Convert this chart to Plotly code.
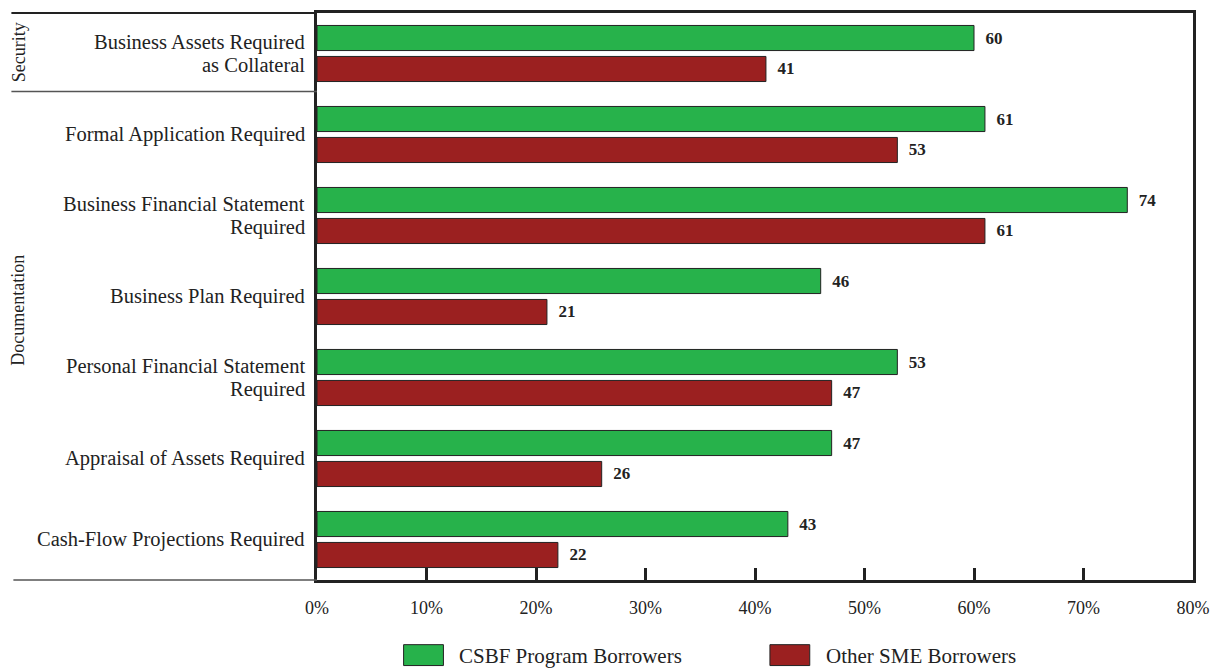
import plotly.graph_objects as go

categories = [
    "Business Assets Required<br>as Collateral",
    "Formal Application Required",
    "Business Financial Statement<br>Required",
    "Business Plan Required",
    "Personal Financial Statement<br>Required",
    "Appraisal of Assets Required",
    "Cash-Flow Projections Required",
]
csbf = [60, 61, 74, 46, 53, 47, 43]
other = [41, 53, 61, 21, 47, 26, 22]
tick_vals = [0, 10, 20, 30, 40, 50, 60, 70, 80]
tick_text = ["0%", "10%", "20%", "30%", "40%", "50%", "60%", "70%", "80%"]
series_names = ["CSBF Program Borrowers", "Other SME Borrowers"]
colors = ["#27B24B", "#9B2020"]

FONT = "Liberation Serif"
INK = "#222222"
NBSP = "\u00a0"

fig = go.Figure()
for name, vals, col in zip(series_names, [csbf, other], colors):
    fig.add_trace(go.Bar(
        y=categories, x=vals, orientation="h", name=name,
        marker=dict(color=col, line=dict(color=INK, width=1)),
        text=[NBSP * 2 + str(v) for v in vals], textposition="outside",
        textfont=dict(family=FONT, size=17, color=INK, weight="bold"),
        cliponaxis=False, showlegend=False,
    ))

PL, PR, PT, PB = 317, 1197, 10, 580
fig.update_layout(
    width=1220, height=671,
    margin=dict(l=PL, r=1220 - PR, t=PT, b=671 - PB),
    paper_bgcolor="white", plot_bgcolor="white",
    barmode="group", bargap=0.235, bargroupgap=0.19,
    font=dict(family=FONT, size=18, color=INK),
    xaxis=dict(
        range=[0, 80], tickvals=tick_vals, ticktext=tick_text,
        ticks="inside", ticklen=12, tickwidth=2.5, tickcolor=INK,
        showgrid=False, zeroline=False,
        showline=True, linecolor=INK, linewidth=2.5, mirror=True,
        tickfont=dict(family=FONT, size=18, color=INK),
        ticklabelstandoff=10,
    ),
    yaxis=dict(
        categoryorder="array", categoryarray=categories, autorange="reversed",
        ticks="", showgrid=False, zeroline=False, showticklabels=False,
        showline=True, linecolor=INK, linewidth=2.5, mirror=True,
    ),
)

def px_x(px):
    return (px - PL) / (PR - PL)

def px_y(py):
    return (PB - py) / (PB - PT)

# category labels (right-aligned, tight line spacing)
for cat in categories:
    lines = cat.split("<br>")
    n = len(lines)
    for i, ln in enumerate(lines):
        shift = ((n - 1) / 2 - i) * 23
        fig.add_annotation(text=ln, xref="paper", yref="y", x=0, y=cat,
                           xanchor="right", yanchor="middle", xshift=-10,
                           yshift=shift, showarrow=False,
                           font=dict(family=FONT, size=20.5, color=INK))

# group separators on the left
fig.add_shape(type="line", xref="paper", yref="paper",
              x0=px_x(10), x1=0, y0=1, y1=1, line=dict(color=INK, width=2))
fig.add_shape(type="line", xref="paper", yref="paper",
              x0=px_x(10), x1=0, y0=px_y(89), y1=px_y(89),
              line=dict(color="#555555", width=1.5))
fig.add_shape(type="line", xref="paper", yref="paper",
              x0=px_x(12), x1=0, y0=0, y1=0,
              line=dict(color="#555555", width=1.5))

fig.add_annotation(text="Security", xref="paper", yref="paper",
                   x=px_x(17), y=px_y(49), xanchor="center", yanchor="middle",
                   textangle=-90, showarrow=False,
                   font=dict(family=FONT, size=18, color=INK))
fig.add_annotation(text="Documentation", xref="paper", yref="paper",
                   x=px_x(17), y=px_y(309), xanchor="center", yanchor="middle",
                   textangle=-90, showarrow=False,
                   font=dict(family=FONT, size=18, color=INK))

# legend (drawn)
legend_items = [(404, 458), (772, 826)]
for (bx, tx), name, col in zip(legend_items, series_names, colors):
    fig.add_shape(type="rect", xref="paper", yref="paper",
                  x0=px_x(bx), x1=px_x(bx + 40), y0=px_y(645), y1=px_y(666),
                  fillcolor=col, line=dict(color=INK, width=1))
    fig.add_annotation(text=name, xref="paper", yref="paper",
                       x=px_x(tx), y=px_y(656), xanchor="left", yanchor="middle",
                       showarrow=False,
                       font=dict(family=FONT, size=21, color=INK))

fig.write_html("out.html")
